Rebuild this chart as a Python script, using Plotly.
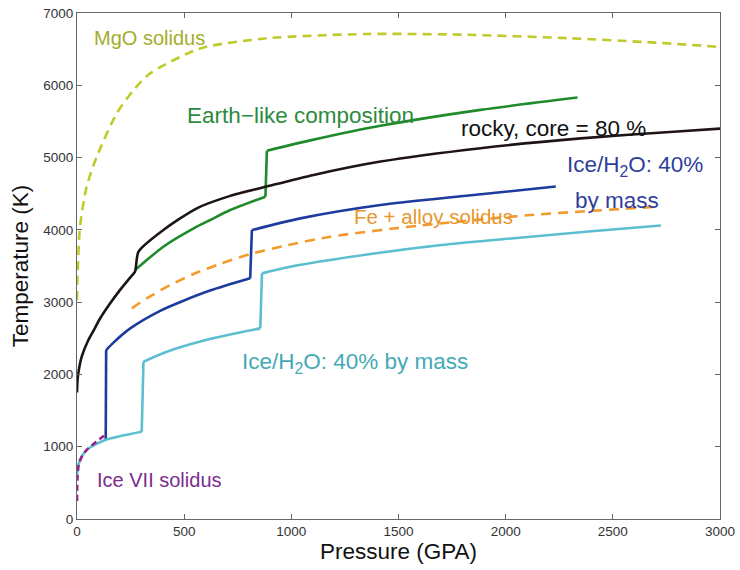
import plotly.graph_objects as go

# Data (Pressure in GPa, Temperature in K)
mgo_p = [0, 3, 14, 45, 92, 185, 263, 341, 575, 886, 1354, 1800, 2304, 2700, 3000]
mgo_t = [3030, 3400, 4040, 4600, 5010, 5610, 5930, 6165, 6510, 6650, 6710, 6700, 6650, 6590, 6530]

earth_p = [271, 403, 559, 621, 715, 879, 886, 1104, 1416, 1883, 2335]
earth_t = [3444, 3767, 4044, 4136, 4274, 4459, 5095, 5248, 5440, 5660, 5830]

rocky_p = [0, 2, 6, 22, 53, 76, 107, 154, 201, 248, 271, 287, 403, 559, 715, 886, 1104, 1416, 1883, 2350, 2818, 3000]
rocky_t = [1750, 1900, 2015, 2245, 2476, 2600, 2770, 2980, 3170, 3340, 3425, 3698, 3998, 4298, 4470, 4600, 4760, 4945, 5130, 5265, 5365, 5400]

ice_blue_p = [134, 136, 170, 250, 388, 497, 621, 808, 816, 1042, 1416, 1805, 2234]
ice_blue_t = [1093, 2337, 2440, 2640, 2880, 3020, 3160, 3329, 3997, 4159, 4344, 4468, 4600]

fe_p = [256, 325, 435, 544, 668, 808, 964, 1182, 1600, 2117, 2709]
fe_t = [2914, 3053, 3237, 3390, 3530, 3665, 3776, 3905, 4060, 4205, 4320]

ice_cyan_p = [0, 5, 14, 45, 131, 302, 310, 419, 606, 855, 863, 995, 1369, 1700, 2039, 2400, 2724]
ice_cyan_t = [610, 720, 816, 954, 1093, 1208, 2176, 2314, 2480, 2637, 3398, 3490, 3665, 3790, 3885, 3980, 4060]

ice7_p = [0, 2, 8, 25, 50, 90, 134]
ice7_t = [250, 550, 750, 880, 970, 1070, 1170]

x_ticks = [0, 500, 1000, 1500, 2000, 2500, 3000]
y_ticks = [0, 1000, 2000, 3000, 4000, 5000, 6000, 7000]

FONT = "Liberation Sans, Arial, Helvetica, sans-serif"

fig = go.Figure()


def segments(px, pt):
    """Split a curve at its vertical jumps so each smooth part can be splined."""
    segs, cur_p, cur_t = [], [px[0]], [pt[0]]
    for i in range(1, len(px)):
        if px[i] - px[i - 1] < 15 and abs(pt[i] - pt[i - 1]) > 150:
            segs.append((cur_p, cur_t))
            segs.append(([px[i - 1], px[i]], [pt[i - 1], pt[i]]))
            cur_p, cur_t = [px[i]], [pt[i]]
        else:
            cur_p.append(px[i])
            cur_t.append(pt[i])
    segs.append((cur_p, cur_t))
    return [s for s in segs if len(s[0]) > 1]


def add(px, pt, color, dash=None, width=2.6, split=True):
    parts = segments(px, pt) if split else [(px, pt)]
    for sp, st in parts:
        fig.add_trace(go.Scatter(x=sp, y=st, mode="lines",
                                 line=dict(color=color, width=width, dash=dash,
                                           shape="spline" if len(sp) > 2 else "linear",
                                           smoothing=0.7),
                                 hoverinfo="skip", showlegend=False))


add(mgo_p, mgo_t, "#bfcb2b", dash="9px,6px", split=False)
add(earth_p, earth_t, "#1f8a2a")
add(rocky_p, rocky_t, "#1e1414")
add(ice_blue_p, ice_blue_t, "#1d3a9e")
add(fe_p, fe_t, "#f39a2c", dash="10px,7px", split=False)
add(ice_cyan_p, ice_cyan_t, "#5bbfcf")
add(ice7_p, ice7_t, "#9a1f86", dash="6px,4px", split=False)


def label(text, x, y, color, size):
    fig.add_annotation(text=text, x=x, y=y, xref="x", yref="y",
                       xanchor="left", yanchor="middle", showarrow=False,
                       font=dict(family=FONT, size=size, color=color))


label("MgO solidus", 70, 6653, "#a3ad2c", 20)
label("Earth\u2212like composition", 505, 5588, "#2d8a3e", 22.5)
label("rocky, core = 80 %", 1780, 5408, "#111111", 22.5)
label("Ice/H<sub>2</sub>O: 40%", 2275, 4880, "#2f3f9a", 22.5)
label("by mass", 2313, 4413, "#2f3f9a", 22.5)
label("Fe + alloy solidus", 1285, 4191, "#e8962e", 20.5)
label("Ice/H<sub>2</sub>O: 40% by mass", 762, 2160, "#45a9b5", 22.5)
label("Ice VII solidus", 84, 540, "#7b2d8e", 20)

axis_common = dict(showline=True, linecolor="#666666", linewidth=1, mirror="ticks",
                   ticks="inside", ticklen=5, tickcolor="#666666", showgrid=False,
                   zeroline=False, automargin=False,
                   tickfont=dict(family=FONT, size=13.5, color="#333333"))

fig.update_xaxes(range=[0, 3000], tickvals=x_ticks, ticktext=[str(v) for v in x_ticks],
                 title=dict(text="Pressure (GPA)", font=dict(family=FONT, size=22.5, color="#111111"), standoff=2),
                 **axis_common)
fig.update_yaxes(range=[0, 7000], tickvals=y_ticks, ticktext=[str(v) for v in y_ticks],
                 title=dict(text="Temperature (K)", font=dict(family=FONT, size=22.5, color="#111111"), standoff=8),
                 **axis_common)

fig.update_layout(width=740, height=570, margin=dict(l=77, r=20, t=13, b=51),
                  plot_bgcolor="white", paper_bgcolor="white",
                  font=dict(family=FONT))

fig.write_html("out.html")
